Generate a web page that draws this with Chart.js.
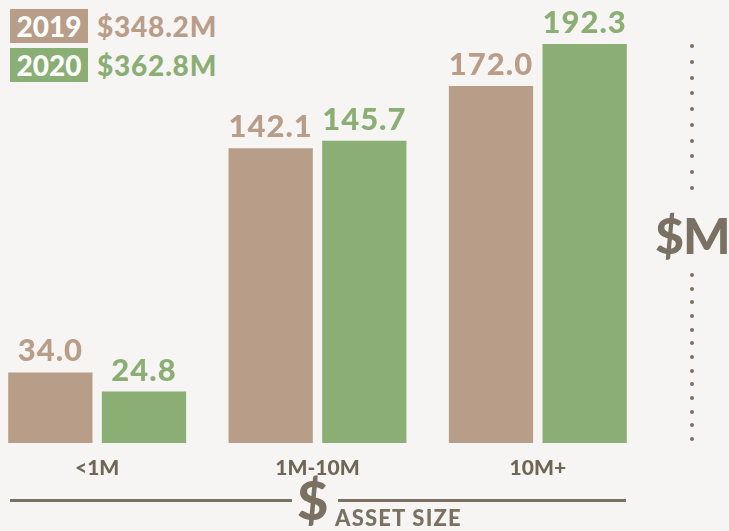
<!DOCTYPE html>
<html><head><meta charset="utf-8">
<script src="https://cdn.jsdelivr.net/npm/chart.js@4/dist/chart.umd.min.js"></script>
<style>
html,body{margin:0;padding:0;background:#f7f5f3;width:729px;height:531px;overflow:hidden;font-family:Lato,"Open Sans",sans-serif;}
#wrap{position:absolute;left:-13px;top:0;width:661px;height:503px;}
.leg{position:absolute;left:10px;height:34px;display:flex;align-items:center;font-weight:900;font-size:28px;}
.leg .box{width:78px;height:34px;color:#fff;display:flex;align-items:center;justify-content:center;}
.leg .val{margin-left:9px;letter-spacing:0.8px;}
.dot{position:absolute;left:0;width:4px;height:4px;border-radius:2px;background:#7a7163;}
#sm{position:absolute;left:655px;top:205px;font-weight:900;font-size:50px;color:#7a7163;line-height:60px;letter-spacing:-1px;}
.hl{position:absolute;top:499px;height:3px;background:#7a7163;}
#dollar{position:absolute;left:297px;top:470px;font-weight:900;font-size:54px;color:#7a7163;line-height:60px;}
#asset{position:absolute;left:335px;top:506px;font-weight:900;font-size:22px;color:#7a7163;line-height:24px;letter-spacing:1.2px;}
</style></head>
<body>
<div class="leg" style="top:9px"><div class="box" id="b1"></div><div class="val" id="v1"></div></div>
<div class="leg" style="top:48px"><div class="box" id="b2"></div><div class="val" id="v2"></div></div>
<div id="wrap"><canvas id="c"></canvas></div>
<div id="dots"></div>
<div id="sm">$M</div>
<div class="hl" style="left:10px;width:282px"></div>
<div class="hl" style="left:338px;width:288px"></div>
<div id="dollar">$</div>
<div id="asset">ASSET SIZE</div>
<script>
const categories = ["<1M", "1M-10M", "10M+"];
const years = ["2019", "2020"];
const totals = ["$348.2M", "$362.8M"];
const values2019 = [34.0, 142.1, 172.0];
const values2020 = [24.8, 145.7, 192.3];
const colors = ["#b89d89", "#8aae74"];

document.getElementById('b1').textContent = years[0];
document.getElementById('b1').style.background = colors[0];
document.getElementById('v1').textContent = totals[0];
document.getElementById('v1').style.color = colors[0];
document.getElementById('b2').textContent = years[1];
document.getElementById('b2').style.background = colors[1];
document.getElementById('v2').textContent = totals[1];
document.getElementById('v2').style.color = colors[1];

// dotted guide
const dots = document.getElementById('dots');
function addDots(y0, y1, n){
  for(let i=0;i<n;i++){
    const d=document.createElement('div');d.className='dot';
    d.style.left='690px';d.style.top=(y0+(y1-y0)*i/(n-1)-2)+'px';
    dots.appendChild(d);
  }
}
addDots(46, 188, 10);
addDots(275, 439, 13);

const labelPlugin = {
  id:'vals',
  afterDatasetsDraw(chart){
    const ctx = chart.ctx;
    ctx.save();
    ctx.font = '900 31px Lato, sans-serif';
    if ('letterSpacing' in ctx) ctx.letterSpacing = '1px';
    ctx.textAlign = 'center';
    ctx.textBaseline = 'alphabetic';
    chart.data.datasets.forEach((ds, di)=>{
      const meta = chart.getDatasetMeta(di);
      ctx.fillStyle = colors[di];
      meta.data.forEach((bar, i)=>{
        ctx.fillText(ds.data[i].toFixed(1), bar.x, bar.y - 11);
      });
    });
    ctx.restore();
  }
};

new Chart(document.getElementById('c'), {
  type:'bar',
  data:{
    labels: categories,
    datasets:[
      {label:years[0], data:values2019, backgroundColor:colors[0]},
      {label:years[1], data:values2020, backgroundColor:colors[1]}
    ]
  },
  options:{
    responsive:true, maintainAspectRatio:false, animation:false,
    layout:{padding:{top:44,left:0,right:0,bottom:0}},
    categoryPercentage:0.85, barPercentage:0.9,
    plugins:{legend:{display:false}, tooltip:{enabled:false}},
    scales:{
      y:{display:false, min:0, max:192.3},
      x:{
        grid:{display:false, drawTicks:false},
        border:{display:false},
        ticks:{color:'#6f6656', font:{family:'Lato', weight:'900', size:21}, padding:13},
        afterFit(s){ s.height = 60; }
      }
    }
  },
  plugins:[labelPlugin]
});
</script>
</body></html>
